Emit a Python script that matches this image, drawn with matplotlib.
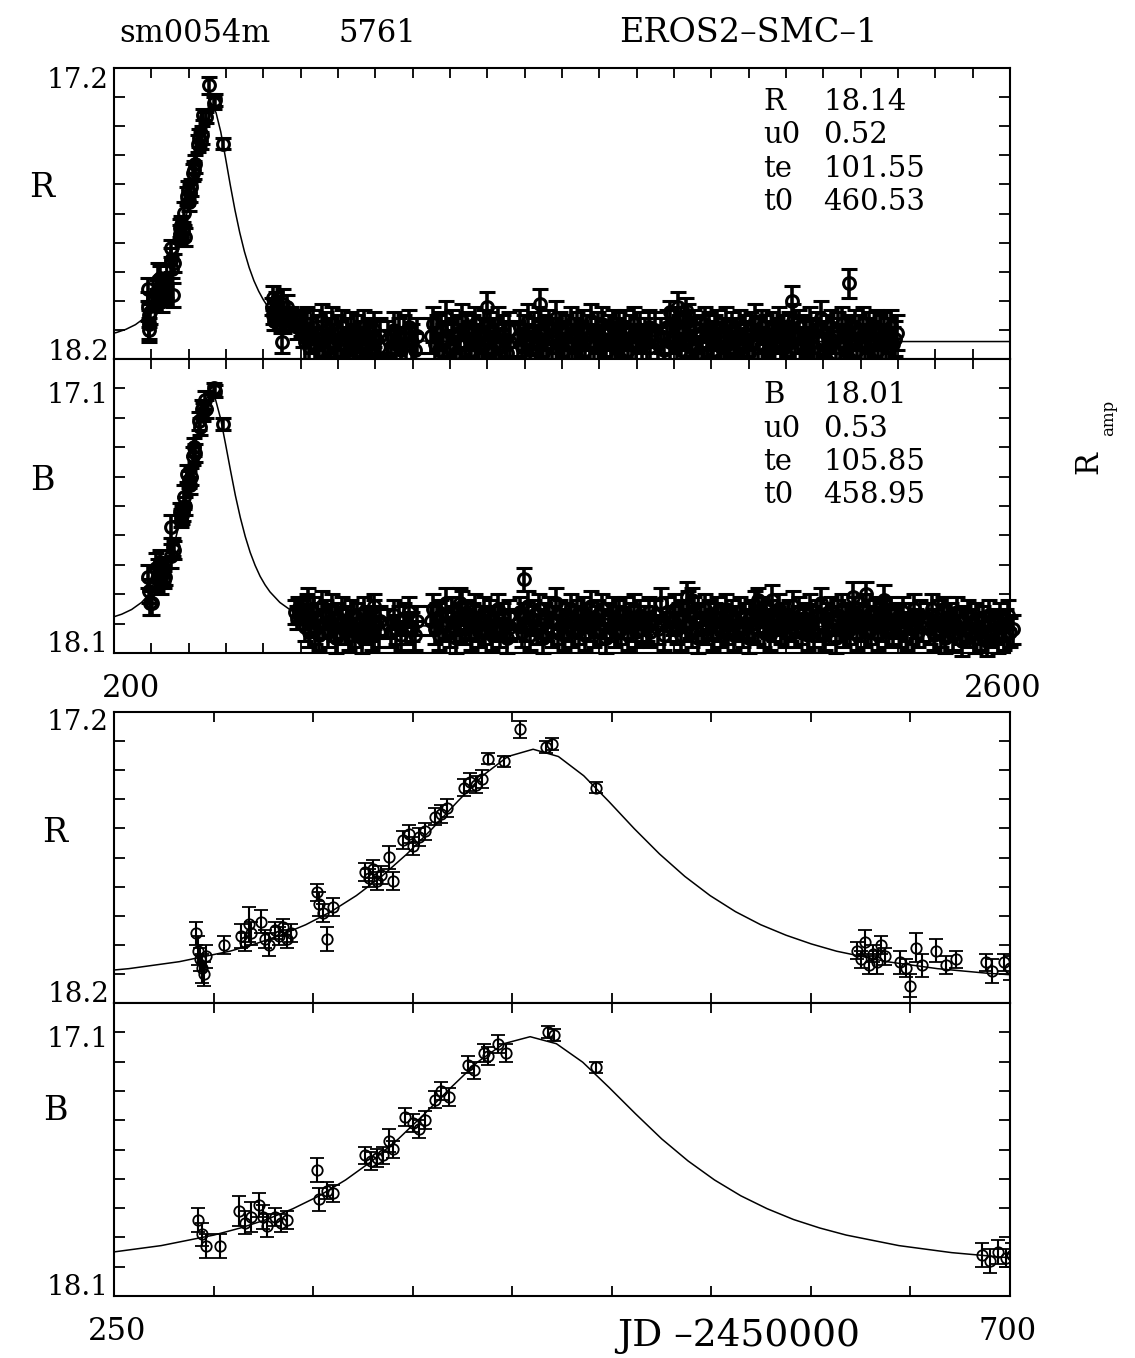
import numpy as np
import matplotlib.pyplot as plt

plt.rcParams['font.family'] = ['DejaVu Serif']

# --- light curve data (JD - 2450000, magnitudes) ---

# rising part + early decline, R band
r_rise_t = [291, 292, 293, 294, 295, 296, 305, 314, 316, 318,
            319, 324, 326, 328, 331, 333, 335, 337, 339, 352,
            353, 355, 357, 360, 376, 378, 380, 382, 384, 388,
            390, 395, 398, 400, 403, 406, 411, 414, 417, 426,
            429, 432, 435, 438, 446, 454, 467, 470, 492,
            623, 625, 627, 629, 631, 633, 635, 637, 645, 648,
            650, 653, 656, 663, 668, 673, 688, 691, 697, 700]
r_rise_m = [17.96, 18.02, 18.05, 18.08, 18.10, 18.04, 18.00, 17.97, 17.99, 17.93,
            17.96, 17.92, 17.98, 18.00, 17.95, 17.97, 17.94, 17.98, 17.96, 17.82,
            17.86, 17.89, 17.98, 17.87, 17.75, 17.77, 17.74, 17.78, 17.76, 17.70,
            17.78, 17.64, 17.62, 17.66, 17.63, 17.61, 17.56, 17.55, 17.53, 17.46,
            17.44, 17.45, 17.43, 17.36, 17.37, 17.26, 17.32, 17.31, 17.46,
            18.02, 18.05, 17.99, 18.07, 18.03, 18.06, 18.00, 18.04, 18.06, 18.08,
            18.14, 18.01, 18.07, 18.02, 18.07, 18.05, 18.06, 18.09, 18.06, 18.08]
r_rise_e = [0.04, 0.05, 0.04, 0.05, 0.04, 0.04, 0.03, 0.04, 0.03, 0.06,
            0.04, 0.04, 0.03, 0.04, 0.03, 0.03, 0.03, 0.03, 0.03, 0.03,
            0.04, 0.03, 0.04, 0.03, 0.03, 0.03, 0.03, 0.03, 0.03, 0.04,
            0.03, 0.03, 0.03, 0.03, 0.03, 0.03, 0.03, 0.03, 0.03, 0.03,
            0.03, 0.03, 0.03, 0.02, 0.02, 0.03, 0.02, 0.02, 0.02,
            0.03, 0.03, 0.04, 0.03, 0.03, 0.04, 0.03, 0.03, 0.04, 0.03,
            0.04, 0.05, 0.04, 0.04, 0.03, 0.03, 0.03, 0.04, 0.03, 0.04]

# rising part, B band
b_rise_t = [292, 294, 296, 303, 313, 316, 319, 323, 325, 327,
            331, 334, 337, 352, 353, 357, 360, 376, 379, 382,
            385, 388, 390, 396, 400, 403, 406, 411, 414, 418,
            428, 431, 436, 438, 443, 447, 468, 471, 492, 686,
            690, 694, 698, 701]
b_rise_m = [17.84, 17.89, 17.93, 17.93, 17.81, 17.85, 17.83, 17.79, 17.83, 17.86,
            17.83, 17.85, 17.84, 17.67, 17.77, 17.74, 17.75, 17.62, 17.64, 17.63,
            17.62, 17.57, 17.60, 17.49, 17.51, 17.53, 17.50, 17.43, 17.40, 17.42,
            17.31, 17.33, 17.27, 17.28, 17.24, 17.27, 17.20, 17.21, 17.32, 17.96,
            17.98, 17.95, 17.97, 17.96]
b_rise_e = [0.04, 0.04, 0.04, 0.04, 0.05, 0.04, 0.05, 0.04, 0.04, 0.04,
            0.03, 0.03, 0.03, 0.04, 0.04, 0.03, 0.03, 0.03, 0.03, 0.03,
            0.03, 0.04, 0.03, 0.03, 0.03, 0.03, 0.03, 0.03, 0.03, 0.03,
            0.03, 0.03, 0.03, 0.03, 0.03, 0.03, 0.02, 0.02, 0.02, 0.04,
            0.04, 0.04, 0.03, 0.04]

# baseline seasons, epochs shared by R and B
s1_t = [705, 711, 716, 722, 727, 733, 739, 744, 750, 756, 761, 767, 773, 778, 784,
        790, 795, 801, 807, 812, 818, 824, 829, 835, 841, 846, 852, 858, 863, 869,
        875, 880, 886, 892, 897, 903, 909, 913]
s2_t = [933, 941, 949, 956, 963, 968]
s3_t = [976, 983, 991, 998, 1005, 1012]
s4_t = [1048, 1054, 1059, 1065, 1071, 1076, 1082, 1088, 1093, 1099,
        1105, 1110, 1116, 1122, 1127, 1133, 1139, 1144, 1150, 1156,
        1161, 1167, 1173, 1178, 1184, 1190, 1195, 1201, 1207, 1212,
        1218, 1224, 1229, 1235, 1241, 1246, 1252, 1258, 1262]
s5_t = [1281, 1287, 1292, 1298, 1304, 1309, 1315, 1321, 1326, 1332,
        1338, 1343, 1349, 1355, 1360, 1366, 1372, 1377, 1383, 1389,
        1394, 1400, 1406, 1411, 1417, 1423, 1428, 1434, 1440, 1445,
        1451, 1457, 1462, 1468, 1474, 1479, 1485, 1491, 1496, 1502,
        1508, 1513, 1519, 1525, 1530, 1536, 1542, 1547, 1553, 1559,
        1564, 1570, 1576, 1581, 1587, 1593, 1598, 1604, 1610, 1615,
        1621, 1627, 1632, 1637]
s6_t = [1648, 1656, 1665, 1673, 1681, 1689]
s7_t = [1697, 1703, 1708, 1714, 1720, 1725, 1731, 1737, 1742, 1748,
        1754, 1759, 1765, 1771, 1776, 1782, 1788, 1793, 1799, 1805,
        1810, 1816, 1822, 1827, 1833, 1839, 1844, 1850, 1856, 1861,
        1867, 1873, 1878, 1884, 1890, 1895, 1901, 1907, 1912, 1918,
        1924, 1929, 1935, 1941, 1946, 1952, 1958, 1963, 1969, 1975,
        1980, 1986, 1992, 1997, 2003]
s8_t = [2008, 2014, 2019, 2025, 2031, 2036, 2042, 2048, 2053, 2059,
        2065, 2070, 2076, 2082, 2087, 2093, 2099, 2104, 2110, 2116,
        2121, 2127, 2133, 2138, 2144, 2150, 2155, 2161, 2167, 2172,
        2178, 2184, 2189, 2195, 2201, 2206, 2212, 2218, 2223, 2229,
        2235, 2240, 2246, 2252, 2257, 2263, 2269, 2274, 2280, 2286,
        2291, 2297]
# B only (R camera stopped)
s8b_t = [2303, 2308, 2314, 2320, 2325, 2331, 2337, 2342, 2348, 2354, 2359, 2365]
s9_t = [2380, 2386, 2391, 2397, 2403, 2408, 2414, 2420, 2425, 2431,
        2437, 2442, 2448, 2454, 2459, 2465, 2471, 2476, 2482, 2488,
        2493, 2499, 2505, 2510, 2516, 2522, 2527, 2533, 2539, 2544,
        2550, 2556, 2561, 2567, 2573, 2578, 2584, 2590, 2595, 2601, 2607]

r_s1_m = [18.10, 18.14, 18.08, 18.16, 18.12, 18.09, 18.15, 18.11, 18.17, 18.07,
          18.13, 18.10, 18.16, 18.12, 18.08, 18.14, 18.18, 18.11, 18.13, 18.09,
          18.15, 18.12, 18.17, 18.10, 18.14, 18.16, 18.11, 18.13, 18.18, 18.09,
          18.15, 18.12, 18.14, 18.17, 18.10, 18.13, 18.16, 18.12]
r_s2_m = [18.13, 18.16, 18.10, 18.15, 18.12, 18.17]
r_s3_m = [18.11, 18.15, 18.09, 18.14, 18.17, 18.12]
r_s4_m = [18.12, 18.08, 18.15, 18.11, 18.17, 18.10, 18.14, 18.06, 18.13, 18.16,
          18.09, 18.12, 18.18, 18.11, 18.14, 18.07, 18.15, 18.10, 18.13, 18.17,
          18.11, 18.08, 18.14, 18.16, 18.12, 18.09, 18.15, 18.13, 18.10, 18.17,
          18.12, 18.14, 18.08, 18.16, 18.11, 18.13, 18.18, 18.10, 18.14]
r_s5_m = [18.13, 18.09, 18.16, 18.11, 18.14, 18.07, 18.17, 18.12, 18.10, 18.15,
          18.08, 18.13, 18.18, 18.11, 18.14, 18.09, 18.16, 18.12, 18.06, 18.15,
          18.10, 18.13, 18.17, 18.11, 18.14, 18.08, 18.16, 18.12, 18.10, 18.15,
          18.13, 18.09, 18.17, 18.11, 18.14, 18.07, 18.16, 18.12, 18.10, 18.15,
          18.08, 18.13, 18.18, 18.11, 18.14, 18.09, 18.16, 18.12, 18.10, 18.15,
          18.13, 18.09, 18.17, 18.11, 18.14, 18.08, 18.16, 18.12, 18.10, 18.15,
          18.12, 18.14, 18.09, 18.16]
r_s6_m = [18.10, 18.15, 18.12, 18.17, 18.09, 18.14]
r_s7_m = [18.12, 18.08, 18.15, 18.11, 18.17, 18.10, 18.14, 18.07, 18.13, 18.16,
          18.09, 18.12, 18.18, 18.11, 18.14, 18.08, 18.15, 18.10, 18.13, 18.17,
          18.11, 18.09, 18.14, 18.16, 18.12, 18.08, 18.15, 18.13, 18.10, 18.17,
          18.12, 18.14, 18.09, 18.16, 18.11, 18.13, 18.18, 18.10, 18.14, 18.07,
          18.15, 18.12, 18.09, 18.16, 18.11, 18.13, 18.17, 18.10, 18.14, 18.12,
          18.08, 18.15, 18.11, 18.16, 18.13]
r_s8_m = [18.10, 18.14, 18.07, 18.16, 18.12, 18.09, 18.15, 18.11, 18.13, 18.17,
          18.08, 18.12, 18.16, 18.10, 18.14, 18.06, 18.13, 18.17, 18.11, 18.15,
          18.09, 18.12, 18.18, 18.10, 18.14, 18.08, 18.16, 18.12, 18.11, 18.15,
          18.13, 18.09, 18.17, 18.11, 18.14, 18.08, 18.16, 18.12, 18.10, 18.15,
          18.13, 18.09, 18.17, 18.11, 18.14, 18.10, 18.16, 18.12, 18.09, 18.15,
          18.13, 18.11]

b_s1_m = [17.97, 18.01, 17.95, 18.03, 17.99, 17.96, 18.02, 17.98, 18.04, 17.94,
          18.00, 17.97, 18.03, 17.99, 17.95, 18.01, 18.05, 17.98, 18.00, 17.96,
          18.02, 17.99, 18.04, 17.97, 18.01, 18.03, 17.98, 18.00, 18.05, 17.96,
          18.02, 17.99, 18.01, 18.04, 17.97, 18.00, 18.03, 17.99]
b_s2_m = [18.00, 18.03, 17.97, 18.02, 17.99, 18.04]
b_s3_m = [17.98, 18.02, 17.96, 18.01, 18.04, 17.99]
b_s4_m = [17.99, 17.95, 18.02, 17.98, 18.04, 17.97, 18.01, 17.93, 18.00, 18.03,
          17.96, 17.99, 18.05, 17.98, 18.01, 17.94, 18.02, 17.97, 18.00, 18.04,
          17.98, 17.95, 18.01, 18.03, 17.99, 17.96, 18.02, 18.00, 17.97, 18.04,
          17.99, 18.01, 17.95, 18.03, 17.98, 18.00, 18.05, 17.97, 18.01]
b_s5_m = [18.00, 17.96, 18.03, 17.98, 18.01, 17.94, 18.04, 17.99, 17.97, 18.02,
          17.95, 18.00, 18.05, 17.98, 18.01, 17.96, 18.03, 17.99, 17.93, 18.02,
          17.97, 18.00, 18.04, 17.98, 18.01, 17.95, 18.03, 17.99, 17.97, 18.02,
          18.00, 17.96, 18.04, 17.98, 18.01, 17.94, 18.03, 17.99, 17.97, 18.02,
          17.95, 18.00, 18.05, 17.98, 18.01, 17.96, 18.03, 17.99, 17.97, 18.02,
          18.00, 17.96, 18.04, 17.98, 18.01, 17.95, 18.03, 17.99, 17.97, 18.02,
          17.99, 18.01, 17.96, 18.03]
b_s6_m = [17.97, 18.02, 17.93, 18.04, 17.96, 18.01]
b_s7_m = [17.99, 17.95, 18.02, 17.98, 18.04, 17.97, 18.01, 17.94, 18.00, 18.03,
          17.96, 17.99, 18.05, 17.98, 18.01, 17.95, 18.02, 17.97, 18.00, 18.04,
          17.98, 17.96, 18.01, 18.03, 17.99, 17.95, 18.02, 18.00, 17.97, 18.04,
          17.99, 18.01, 17.96, 18.03, 17.98, 18.00, 18.05, 17.97, 18.01, 17.94,
          18.02, 17.99, 17.96, 18.03, 17.98, 18.00, 18.04, 17.97, 18.01, 17.99,
          17.95, 18.02, 17.98, 18.03, 18.00]
b_s8_m = [17.97, 18.01, 17.94, 18.03, 17.99, 17.96, 18.02, 17.98, 18.00, 18.04,
          17.95, 17.99, 18.03, 17.97, 18.01, 17.93, 18.00, 18.04, 17.98, 18.02,
          17.96, 17.99, 18.05, 17.97, 18.01, 17.95, 18.03, 17.99, 17.98, 18.02,
          18.00, 17.96, 18.04, 17.98, 18.01, 17.95, 18.03, 17.99, 17.97, 18.02,
          18.00, 17.96, 18.04, 17.98, 18.01, 17.97, 18.03, 17.99, 17.96, 18.02,
          18.00, 17.98]
b_s8b_m = [17.99, 18.03, 17.96, 18.01, 18.04, 17.98, 18.02, 17.95, 18.00, 18.03, 17.97, 18.01]
b_s9_m = [17.98, 18.02, 17.95, 18.04, 18.00, 17.97, 18.03, 17.99, 18.05, 17.96,
          18.01, 17.98, 18.04, 18.00, 17.96, 18.02, 18.06, 17.99, 18.01, 17.97,
          18.03, 18.00, 18.05, 17.98, 18.02, 18.04, 17.99, 18.01, 18.06, 17.97,
          18.03, 18.00, 18.02, 18.05, 17.98, 18.01, 18.04, 18.00, 17.97, 18.03, 18.02]

r_base_err = 0.06
b_base_err = 0.05

# points sticking out of the baseline
r_out_t = [1200, 1342, 1690, 1712, 1731, 2017, 2169]
r_out_m = [18.02, 18.01, 18.04, 18.02, 18.03, 18.00, 17.94]
r_out_e = [0.05, 0.05, 0.04, 0.05, 0.04, 0.05, 0.05]
b_out_t = [719, 896, 1128, 1297, 1735, 1748, 1925, 1962, 2180, 2214, 2262, 2420]
b_out_m = [17.92, 17.94, 17.93, 17.85, 17.91, 17.92, 17.92, 17.92, 17.91, 17.90, 17.92, 17.95]
b_out_e = [0.04, 0.04, 0.05, 0.04, 0.05, 0.04, 0.04, 0.05, 0.05, 0.04, 0.05, 0.04]

# fitted microlensing curves
r_fit_t = [200, 206.7, 232.0, 257.4, 282.8, 308.2, 320.9, 333.6, 346.3, 359.0,
           371.7, 384.4, 397.1, 409.8, 422.5, 435.1, 447.8, 460.5, 473.2, 485.9,
           498.6, 511.3, 524.0, 536.7, 549.4, 562.1, 574.8, 587.5, 600.2, 612.9,
           638.2, 663.6, 689.0, 714.4, 765.2, 816.0, 866.7, 968.3, 1069.8, 1272.9, 2600]
r_fit_m = [18.111, 18.109, 18.098, 18.082, 18.058, 18.022, 17.997, 17.967, 17.931, 17.886,
           17.831, 17.765, 17.688, 17.601, 17.508, 17.419, 17.353, 17.328, 17.353, 17.419,
           17.508, 17.601, 17.688, 17.765, 17.831, 17.886, 17.931, 17.967, 17.997, 18.022,
           18.058, 18.082, 18.098, 18.109, 18.123, 18.130, 18.133, 18.137, 18.139, 18.140, 18.140]
b_fit_t = [194.3, 220.8, 247.3, 273.7, 300.2, 313.4, 326.6, 339.9, 353.1, 366.3,
           379.6, 392.8, 406.0, 419.3, 432.5, 445.7, 459.0, 472.2, 485.4, 498.6,
           511.9, 525.1, 538.3, 551.6, 564.8, 578.0, 591.3, 604.5, 617.7, 644.2,
           670.7, 697.1, 723.6, 776.5, 829.4, 882.3, 988.2, 1094.1, 1305.8, 2600]
b_fit_m = [17.979, 17.968, 17.952, 17.928, 17.892, 17.868, 17.839, 17.802, 17.758, 17.704,
           17.639, 17.564, 17.478, 17.388, 17.302, 17.239, 17.215, 17.239, 17.302, 17.388,
           17.478, 17.564, 17.639, 17.704, 17.758, 17.802, 17.839, 17.868, 17.892, 17.928,
           17.952, 17.968, 17.979, 17.993, 18.000, 18.003, 18.007, 18.009, 18.010, 18.010]

# fit parameters printed in the panels
r_params = [('R', '18.14'), ('u0', '0.52'), ('te', '101.55'), ('t0', '460.53')]
b_params = [('B', '18.01'), ('u0', '0.53'), ('te', '105.85'), ('t0', '458.95')]

# --- assemble ---
r_base_t = s1_t + s2_t + s3_t + s4_t + s5_t + s6_t + s7_t + s8_t
r_base_m = r_s1_m + r_s2_m + r_s3_m + r_s4_m + r_s5_m + r_s6_m + r_s7_m + r_s8_m
b_base_t = r_base_t + s8b_t + s9_t
b_base_m = (b_s1_m + b_s2_m + b_s3_m + b_s4_m + b_s5_m + b_s6_m + b_s7_m + b_s8_m
            + b_s8b_m + b_s9_m)

r_t = np.array(r_rise_t + r_base_t + r_out_t, dtype=float)
r_m = np.array(r_rise_m + r_base_m + r_out_m)
r_e = np.array(r_rise_e + [r_base_err] * len(r_base_t) + r_out_e)
b_t = np.array(b_rise_t + b_base_t + b_out_t, dtype=float)
b_m = np.array(b_rise_m + b_base_m + b_out_m)
b_e = np.array(b_rise_e + [b_base_err] * len(b_base_t) + b_out_e)

# --- figure ---
W, H = 1135, 1358
fig = plt.figure(figsize=(W / 100, H / 100), dpi=100)


def fx(x):
    return x / W


def fy(y):
    return 1 - y / H


def panel(top, bot, xlim, ylim, xstep):
    ax = fig.add_axes([fx(114), fy(bot), (1010 - 114) / W, (bot - top) / H])
    ax.set_xlim(*xlim)
    ax.set_ylim(*ylim)
    ax.set_xticks(np.arange(xlim[0], xlim[1] + 1, xstep))
    ax.set_yticks(np.arange(min(ylim), max(ylim) + 0.001, 0.1))
    ax.tick_params(direction='in', top=True, right=True,
                   labelbottom=False, labelleft=False, width=1.3, color='k')
    ax.tick_params(axis='x', length=7.5)
    ax.tick_params(axis='y', length=8)
    for s in ax.spines.values():
        s.set_linewidth(1.5)
    return ax


def draw(ax, t, m, e, fit_t, fit_m, clip, heavy):
    ax.plot(fit_t, fit_m, color='k', lw=1.1)
    lw = 2.6 if heavy else 1.5
    cont = ax.errorbar(t, m, yerr=e, fmt='o', ms=8.5 if heavy else 7.5, mfc='none',
                       mec='k', mew=2.2 if heavy else 1.3, ecolor='k', elinewidth=lw,
                       capsize=6 if heavy else 5, capthick=lw)
    if not clip:
        line, caps, bars = cont.lines
        for a in (line, *caps, *bars):
            a.set_clip_on(False)


ax1 = panel(68, 359, (200, 2600), (18.2, 17.2), 100)
ax2 = panel(359, 653, (200, 2600), (18.1, 17.1), 100)
ax3 = panel(712, 1003, (250, 700), (18.2, 17.2), 50)
ax4 = panel(1003, 1296, (250, 700), (18.1, 17.1), 50)

# full season, dense
draw(ax1, r_t, r_m, r_e, r_fit_t, r_fit_m, clip=False, heavy=True)
draw(ax2, b_t, b_m, b_e, b_fit_t, b_fit_m, clip=False, heavy=True)
# zoom on the event
draw(ax3, r_t, r_m, r_e, r_fit_t, r_fit_m, clip=True, heavy=False)
draw(ax4, b_t, b_m, b_e, b_fit_t, b_fit_m, clip=True, heavy=False)


def label(x, y, s, size, ha='center', **kw):
    fig.text(fx(x), fy(y), s, fontsize=size, ha=ha, va='baseline', **kw)


# header
label(195, 42, 'sm0054m', 22)
label(377, 42, '5761', 22)
label(748, 42, 'EROS2–SMC–1', 24)

# y range labels
for y, s in [(88, '17.2'), (360, '18.2'), (403, '17.1'), (652, '18.1'),
             (730, '17.2'), (1002, '18.2'), (1047, '17.1'), (1295, '18.1')]:
    label(109, y, s, 20, ha='right')

# band names
label(42, 197, 'R', 24)
label(42, 490, 'B', 24)
label(55, 842, 'R', 24)
label(55, 1120, 'B', 24)

# x range labels
label(131, 697, '200', 22)
label(1003, 697, '2600', 22)
label(117, 1340, '250', 22)
label(1008, 1340, '700', 22)
label(739, 1346, 'JD –2450000', 27)

# fit parameters
for (name, val), y in zip(r_params, [110, 143, 177, 210]):
    label(763, y, name, 21, ha='left')
    label(823, y, val, 21, ha='left')
for (name, val), y in zip(b_params, [403, 437, 470, 503]):
    label(763, y, name, 21, ha='left')
    label(823, y, val, 21, ha='left')

# piece of the neighbouring figure's axis title
fig.text(fx(1089), fy(463), 'R', fontsize=22, rotation=90, ha='center', va='center')
fig.text(fx(1109), fy(418), 'amp', fontsize=12, rotation=90, ha='center', va='center')

fig.savefig('out.png', dpi=100)
